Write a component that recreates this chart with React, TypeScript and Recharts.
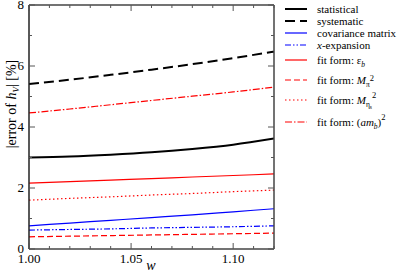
import { LineChart, Line, XAxis, YAxis } from 'recharts'

const W = [1.0, 1.02, 1.04, 1.06, 1.08, 1.1, 1.12]
const STATISTICAL = [3.0, 3.03, 3.09, 3.17, 3.28, 3.42, 3.62]
const SYSTEMATIC = [5.41, 5.55, 5.71, 5.88, 6.06, 6.26, 6.47]
const COVARIANCE = [0.76, 0.85, 0.94, 1.03, 1.12, 1.22, 1.32]
const X_EXPANSION = [0.62, 0.64, 0.66, 0.69, 0.71, 0.73, 0.76]
const FIT_EPS = [2.16, 2.21, 2.26, 2.31, 2.36, 2.41, 2.46]
const FIT_MPI = [0.4, 0.42, 0.44, 0.46, 0.48, 0.5, 0.52]
const FIT_META = [1.6, 1.66, 1.71, 1.77, 1.82, 1.88, 1.93]
const FIT_AMB = [4.46, 4.59, 4.73, 4.87, 5.01, 5.15, 5.31]

const X_TICKS = [1.0, 1.01, 1.02, 1.03, 1.04, 1.05, 1.06, 1.07, 1.08, 1.09, 1.1, 1.11, 1.12]
const Y_TICKS = [0, 1, 2, 3, 4, 5, 6, 7, 8]

const data = W.map((w, i) => ({
  w,
  stat: STATISTICAL[i],
  sys: SYSTEMATIC[i],
  cov: COVARIANCE[i],
  xexp: X_EXPANSION[i],
  eps: FIT_EPS[i],
  mpi: FIT_MPI[i],
  meta: FIT_META[i],
  amb: FIT_AMB[i],
}))

const RED = '#ff0000'
const BLUE = '#0000ff'

type Label = 'stat' | 'sys' | 'cov' | 'xexp' | 'eps' | 'mpi' | 'meta' | 'amb'

const SERIES: { key: Label; color: string; width: number; dash?: string }[] = [
  { key: 'stat', color: '#000', width: 2 },
  { key: 'sys', color: '#000', width: 2, dash: '10 5' },
  { key: 'cov', color: BLUE, width: 1.2 },
  { key: 'xexp', color: BLUE, width: 1.2, dash: '6 2 1.5 2 1.5 2' },
  { key: 'eps', color: RED, width: 1.2 },
  { key: 'mpi', color: RED, width: 1.2, dash: '6 3' },
  { key: 'meta', color: RED, width: 1.2, dash: '1.5 2.5' },
  { key: 'amb', color: RED, width: 1.2, dash: '7 2 1.5 2' },
]

const FONT = 'Liberation Serif, Times New Roman, serif'
const AXIS = '#444'
const TICK = '#555'
const txt = { fontFamily: FONT }

const sup = (s: string) => (
  <tspan dy={-6} fontSize={8.5}>
    {s}
  </tspan>
)

function legendText(key: Label) {
  switch (key) {
    case 'stat':
      return 'statistical'
    case 'sys':
      return 'systematic'
    case 'cov':
      return 'covariance matrix'
    case 'xexp':
      return (
        <>
          <tspan fontStyle="italic">x</tspan>-expansion
        </>
      )
    case 'eps':
      return (
        <>
          fit form: ε
          <tspan dy={3} fontSize={7.5} fontStyle="italic">b</tspan>
        </>
      )
    case 'mpi':
      return (
        <>
          fit form: <tspan fontStyle="italic">M</tspan>
          <tspan dy={3} fontSize={7.5}>π</tspan>
          {sup('2')}
        </>
      )
    case 'meta':
      return (
        <>
          fit form: <tspan fontStyle="italic">M</tspan>
          <tspan dy={3} fontSize={7.5}>η</tspan>
          <tspan dy={2} fontSize={5.5}>s</tspan>
          <tspan dy={-11} fontSize={8.5}>2</tspan>
        </>
      )
    case 'amb':
      return (
        <>
          fit form: (<tspan fontStyle="italic">am</tspan>
          <tspan dy={3} fontSize={7.5} fontStyle="italic">b</tspan>
          <tspan dy={-3}>)</tspan>
          {sup('2')}
        </>
      )
  }
}

const LEGEND_Y = [9, 21, 33, 45, 60, 80, 100, 122]

const isMajorX = (v: number) => Math.round(v * 100) % 5 === 0
const isMajorY = (v: number) => v % 2 === 0

const BottomTick = ({ x, y, payload }: any) => {
  const major = isMajorX(payload.value)
  return (
    <g>
      <line x1={x} x2={x} y1={y} y2={y - (major ? 6 : 3)} stroke={TICK} />
      {major && (
        <text x={x} y={y + 14} textAnchor="middle" fontSize={13} style={txt} fill="#000">
          {payload.value.toFixed(2)}
        </text>
      )}
    </g>
  )
}

const TopTick = ({ x, y, payload }: any) => {
  const major = isMajorX(payload.value)
  return <line x1={x} x2={x} y1={y} y2={y + (major ? 6 : 3)} stroke={TICK} />
}

const LeftTick = ({ x, y, payload }: any) => {
  const major = isMajorY(payload.value)
  return (
    <g>
      <line x1={x} x2={x + (major ? 6 : 3)} y1={y} y2={y} stroke={TICK} />
      {major && (
        <text x={x - 5} y={y + 4} textAnchor="end" fontSize={13} style={txt} fill="#000">
          {payload.value}
        </text>
      )}
    </g>
  )
}

const RightTick = ({ x, y, payload }: any) => {
  const major = isMajorY(payload.value)
  return <line x1={x} x2={x - (major ? 6 : 3)} y1={y} y2={y} stroke={TICK} />
}

export default function App() {
  return (
    <div style={{ position: 'absolute', left: 0, top: 0, width: 399, height: 273, background: '#fff' }}>
      <LineChart width={399} height={273} data={data} margin={{ top: 4, right: 124, bottom: 23, left: 28 }}>
        <XAxis
          dataKey="w"
          type="number"
          domain={[1, 1.12]}
          allowDataOverflow
          ticks={X_TICKS}
          interval={0}
          height={1}
          tickSize={0}
          tickMargin={0}
          tickLine={false}
          axisLine={{ stroke: AXIS, strokeWidth: 1.5 }}
          tick={<BottomTick />}
        />
        <XAxis
          xAxisId="t"
          orientation="top"
          dataKey="w"
          type="number"
          domain={[1, 1.12]}
          allowDataOverflow
          ticks={X_TICKS}
          interval={0}
          height={1}
          tickSize={0}
          tickMargin={0}
          tickLine={false}
          axisLine={{ stroke: AXIS, strokeWidth: 1.5 }}
          tick={<TopTick />}
        />
        <YAxis
          type="number"
          domain={[0, 8]}
          allowDataOverflow
          ticks={Y_TICKS}
          interval={0}
          width={1}
          tickSize={0}
          tickMargin={0}
          tickLine={false}
          axisLine={{ stroke: '#222', strokeWidth: 1.5 }}
          tick={<LeftTick />}
        />
        <YAxis
          yAxisId="r"
          orientation="right"
          type="number"
          domain={[0, 8]}
          allowDataOverflow
          ticks={Y_TICKS}
          interval={0}
          width={1}
          tickSize={0}
          tickMargin={0}
          tickLine={false}
          axisLine={{ stroke: AXIS, strokeWidth: 1.5 }}
          tick={<RightTick />}
        />
        {SERIES.map((s) => (
          <Line
            key={s.key}
            dataKey={s.key}
            type="monotone"
            stroke={s.color}
            strokeWidth={s.width}
            strokeDasharray={s.dash}
            dot={false}
            activeDot={false}
            isAnimationActive={false}
          />
        ))}
        <Line
          dataKey="stat"
          xAxisId="t"
          yAxisId="r"
          stroke="none"
          dot={false}
          activeDot={false}
          legendType="none"
          isAnimationActive={false}
        />
      </LineChart>

      {/* axis titles */}
      <svg width={399} height={273} style={{ position: 'absolute', left: 0, top: 0, pointerEvents: 'none' }}>
        <text transform="translate(16,104) rotate(-90)" textAnchor="middle" fontSize={14} style={txt} fill="#000">
          |error of <tspan fontStyle="italic">h</tspan>
          <tspan dy={3} fontSize={9} fontStyle="italic">V</tspan>
          <tspan dy={-3}>| [%]</tspan>
        </text>
        <text x={151} y={270} textAnchor="middle" fontSize={14} fontStyle="italic" style={txt} fill="#000">
          w
        </text>

        {/* legend */}
        {SERIES.map((s, i) => (
          <g key={s.key}>
            <line
              x1={285}
              x2={307}
              y1={LEGEND_Y[i]}
              y2={LEGEND_Y[i]}
              stroke={s.color}
              strokeWidth={s.width}
              strokeDasharray={s.dash}
            />
            <text x={317} y={LEGEND_Y[i] + 4} fontSize={11} style={txt} fill="#000">
              {legendText(s.key)}
            </text>
          </g>
        ))}
      </svg>
    </div>
  )
}
